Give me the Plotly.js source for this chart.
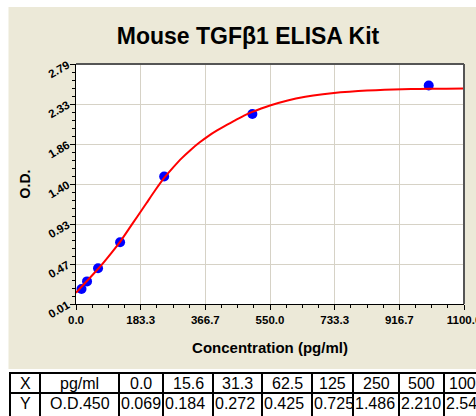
<!DOCTYPE html>
<html><head><meta charset="utf-8">
<script src="https://cdn.plot.ly/plotly-3.0.1.min.js"></script>
<style>html,body{margin:0;padding:0;background:#fff;overflow:hidden}#chart{width:476px;height:416px}</style>
</head><body><div id="chart"></div>
<script>
// ---- data ----
const concentrations = [0, 15.6, 31.3, 62.5, 125, 250, 500, 1000];
const odValues = [0.069, 0.184, 0.272, 0.425, 0.725, 1.486, 2.210, 2.54];
const plottedConc = concentrations.slice(1);
const plottedOD = odValues.slice(1);
// fitted curve
const fitCurveX = [0, 25, 50, 75, 100, 125, 150, 175, 200, 225, 250, 275, 300, 325, 350, 375, 400, 425, 450, 475, 500, 525, 550, 600, 650, 700, 750, 800, 850, 900, 950, 1000, 1050, 1100];
const fitCurveY = [0.14, 0.25, 0.36, 0.475, 0.60, 0.73, 0.88, 1.03, 1.18, 1.33, 1.47, 1.59, 1.70, 1.795, 1.88, 1.955, 2.02, 2.08, 2.135, 2.19, 2.235, 2.275, 2.31, 2.368, 2.41, 2.44, 2.462, 2.477, 2.487, 2.494, 2.499, 2.502, 2.504, 2.505];
const xTickVals = [0, 183.333, 366.667, 550, 733.333, 916.667, 1100];
const xTickText = ['0.0', '183.3', '366.7', '550.0', '733.3', '916.7', '1100.0'];
const yTickVals = [0.01, 0.47333, 0.93667, 1.40, 1.86333, 2.32667, 2.79];
const yTickText = ['0.01', '0.47', '0.93', '1.40', '1.86', '2.33', '2.79'];
const tableRowX = ['X', 'pg/ml'];
const tableRowY = ['Y', 'O.D.450'];
const tableConcText = ['0.0', '15.6', '31.3', '62.5', '125', '250', '500', '1000'];
const tableODText = odValues.map(v => v.toFixed(3));

// ---- geometry helpers (pixel -> paper) ----
const W = 476, H = 416, ML = 76, MR = 12, MT = 64, MB = 112;
const PW = W - ML - MR, PH = H - MT - MB;
const px = x => (x - ML) / PW;
const py = y => (H - MB - y) / PH;
const FONT = 'Liberation Sans, Arial, sans-serif';

const shapes = [
  {type:'rect', xref:'paper', yref:'paper', x0:px(8.5), x1:px(490), y0:py(369), y1:py(7), fillcolor:'#ECE9D8', line:{width:0}, layer:'below'},
  {type:'rect', xref:'paper', yref:'paper', x0:0, x1:1, y0:0, y1:1, fillcolor:'#ffffff', line:{width:0}, layer:'below'},
  {type:'line', xref:'paper', yref:'paper', x0:0, x1:1, y0:1, y1:1, line:{color:'#555555', width:2}, layer:'above'},
  {type:'line', xref:'paper', yref:'paper', x0:1, x1:1, y0:0, y1:1, line:{color:'#555555', width:2}, layer:'above'}
];
// table grid
const colLines = [10, 40, 119, 163, 213, 262, 312, 353, 399, 444, 489];
const rowLines = [373, 393];
rowLines.forEach(r => shapes.push({type:'line', xref:'paper', yref:'paper', x0:px(9), x1:px(500), y0:py(r), y1:py(r), line:{color:'#000', width:2}}));
colLines.forEach(c => shapes.push({type:'line', xref:'paper', yref:'paper', x0:px(c), x1:px(c), y0:py(372), y1:py(420), line:{color:'#000', width:2}}));

const annotations = [];
const row1Y = 383, row2Y = 403;
function addText(t, x, y, anchor) {
  annotations.push({text:t, xref:'paper', yref:'paper', x:px(x), y:py(y), xanchor:anchor, yanchor:'middle', showarrow:false, font:{family:FONT, size:16, color:'#000'}, borderpad:0});
}
addText(tableRowX[0], (colLines[0]+colLines[1])/2, row1Y, 'center');
addText(tableRowX[1], (colLines[1]+colLines[2])/2, row1Y, 'center');
addText(tableRowY[0], (colLines[0]+colLines[1])/2, row2Y, 'center');
addText(tableRowY[1], (colLines[1]+colLines[2])/2, row2Y, 'center');
tableConcText.forEach((t, i) => addText(t, (colLines[i+2]+colLines[i+3])/2, row1Y, 'center'));
tableODText.forEach((t, i) => addText(t, colLines[i+2]+1, row2Y, 'left'));

const tickFont = {family:FONT, size:11.5, color:'#000', weight:'bold'};

const data = [
  {x: plottedConc, y: plottedOD, type:'scatter', mode:'markers', marker:{color:'#0000ff', size:10}, hoverinfo:'x+y'},
  {x: fitCurveX, y: fitCurveY, type:'scatter', mode:'lines', line:{color:'#ff0000', width:2, shape:'spline', smoothing:0.5}, hoverinfo:'skip'}
];

const layout = {
  width: W, height: H,
  margin: {l: ML, r: MR, t: MT, b: MB, pad: 0},
  paper_bgcolor: '#ffffff', plot_bgcolor: 'rgba(0,0,0,0)',
  showlegend: false,
  title: {text: '<b>Mouse TGFβ1 ELISA Kit</b>', font: {family: FONT, size: 23, color: '#000'}, xref: 'container', yref: 'container', x: 248/W, xanchor: 'center', y: 1 - 36/H, yanchor: 'middle'},
  xaxis: {
    range: [0, 1100], tickmode: 'array', tickvals: xTickVals, ticktext: xTickText,
    ticks: 'outside', ticklen: 5, tickwidth: 1, tickcolor: '#000', ticklabeloverflow: 'allow',
    showline: true, linecolor: '#000', linewidth: 1, mirror: false,
    showgrid: true, gridcolor: '#d6d2c6', gridwidth: 1, zeroline: false,
    tickfont: tickFont,
    minor: {tick0: 0, dtick: 1100/24, ticks: 'outside', ticklen: 3, tickwidth: 1, tickcolor: '#000', showgrid: false},
    title: {text: '<b>Concentration (pg/ml)</b>', font: {family: FONT, size: 15, color: '#000'}, standoff: 17},
    fixedrange: true
  },
  yaxis: {
    range: [0.01, 2.79], tickmode: 'array', tickvals: yTickVals, ticktext: yTickText,
    ticks: 'outside', ticklen: 5, tickwidth: 1, tickcolor: '#000', tickangle: -30, ticklabeloverflow: 'allow',
    showline: true, linecolor: '#000', linewidth: 1, mirror: false,
    showgrid: true, gridcolor: '#d6d2c6', gridwidth: 1, zeroline: false,
    tickfont: tickFont,
    minor: {tick0: 0.01, dtick: 2.78/30, ticks: 'outside', ticklen: 3, tickwidth: 1, tickcolor: '#000', showgrid: false},
    title: {text: '<b>O.D.</b>', font: {family: FONT, size: 14, color: '#000'}, standoff: 12},
    fixedrange: true
  },
  shapes: shapes,
  annotations: annotations
};

Plotly.newPlot('chart', data, layout, {displayModeBar: false, staticPlot: true});
</script>
</body></html>
